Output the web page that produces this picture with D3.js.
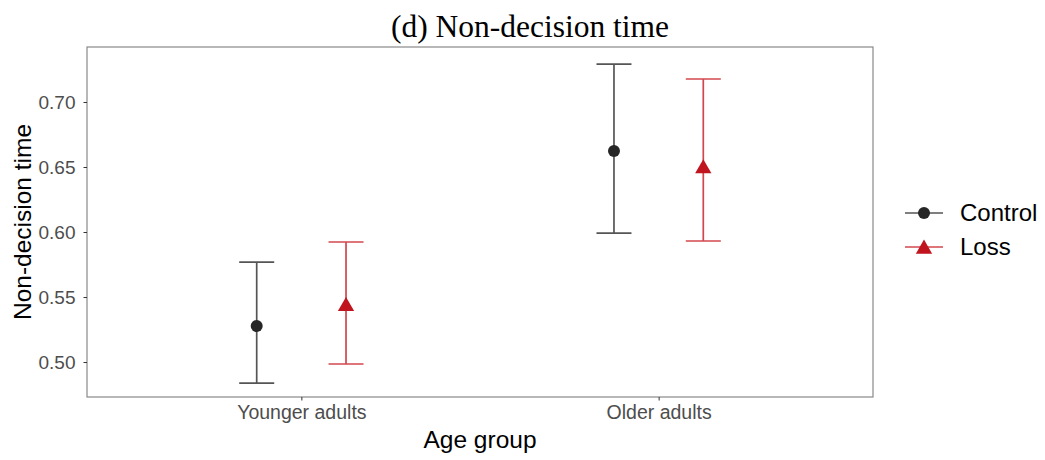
<!DOCTYPE html>
<html><head><meta charset="utf-8">
<script src="https://cdn.jsdelivr.net/npm/d3@7"></script>
<style>body{margin:0;background:#fff}</style>
</head><body>
<svg id="c" width="1045" height="460"></svg>
<script>
const groups = ["Younger adults", "Older adults"];
const conditions = ["Control", "Loss"];
const means = { "Control": [0.5277, 0.6623], "Loss": [0.5428, 0.6488] };
const lower = { "Control": [0.4838, 0.5992], "Loss": [0.4985, 0.5931] };
const upper = { "Control": [0.5769, 0.7292], "Loss": [0.5923, 0.7177] };
const yTicks = [0.50, 0.55, 0.60, 0.65, 0.70];
const colors = { "Control": "#262626", "Loss": "#c0141f" };
const barColors = { "Control": "#555555", "Loss": "#d2474f" };

const svg = d3.select("#c");
const L = 87, R = 873, T = 47, B = 397;
const y = d3.scaleLinear().domain([0.4731, 0.7423]).range([B, T]);
const x = d3.scaleLinear().domain([0.4, 2.6]).range([L, R]);
const dodge = d3.scaleBand().domain(conditions).range([-0.25, 0.25]).paddingInner(0);
const off = c => dodge(c) + dodge.bandwidth() / 2;
const sans = "Liberation Sans, Arial, sans-serif";

// title
svg.append("text").attr("x", 530).attr("y", 37).attr("text-anchor", "middle")
  .attr("font-family", "Liberation Serif, Times New Roman, serif").attr("font-size", 31.5)
  .attr("fill", "#000").text("(d) Non-decision time");

// panel
svg.append("rect").attr("x", L).attr("y", T).attr("width", R - L).attr("height", B - T)
  .attr("fill", "none").attr("stroke", "#7f7f7f").attr("stroke-width", 1.1);

// y axis
const ya = svg.append("g").attr("transform", `translate(${L},0)`)
  .call(d3.axisLeft(y).tickValues(yTicks).tickFormat(d3.format(".2f")).tickSize(3.5).tickPadding(8));
ya.select(".domain").remove();
ya.selectAll("line").attr("stroke", "#333");
ya.selectAll("text").attr("font-family", sans).attr("font-size", 19).attr("fill", "#4d4d4d");

// x axis
const xa = svg.append("g").attr("transform", `translate(0,${B})`)
  .call(d3.axisBottom(x).tickValues([1, 2]).tickFormat(d => groups[d - 1]).tickSize(3.5).tickPadding(5));
xa.select(".domain").remove();
xa.selectAll("line").attr("stroke", "#333");
xa.selectAll("text").attr("font-family", sans).attr("font-size", 19.5).attr("fill", "#4d4d4d");

// axis titles
svg.append("text").attr("x", 480).attr("y", 448).attr("text-anchor", "middle")
  .attr("font-family", sans).attr("font-size", 24.5).text("Age group");
svg.append("text").attr("transform", `translate(31,${(T + B) / 2}) rotate(-90)`).attr("text-anchor", "middle")
  .attr("font-family", sans).attr("font-size", 24.5).text("Non-decision time");

const capW = 17.5;
const tri = d3.symbol().type(d3.symbolTriangle).size(115);
conditions.forEach(c => {
  groups.forEach((g, i) => {
    const cx = x(i + 1 + off(c));
    const gg = svg.append("g");
    gg.append("line").attr("x1", cx).attr("x2", cx).attr("y1", y(lower[c][i])).attr("y2", y(upper[c][i]))
      .attr("stroke", barColors[c]).attr("stroke-width", 1.7);
    [lower[c][i], upper[c][i]].forEach(v => {
      gg.append("line").attr("x1", cx - capW).attr("x2", cx + capW).attr("y1", y(v)).attr("y2", y(v))
        .attr("stroke", barColors[c]).attr("stroke-width", 1.7);
    });
    if (c === "Control") {
      gg.append("circle").attr("cx", cx).attr("cy", y(means[c][i])).attr("r", 6).attr("fill", colors[c]);
    } else {
      gg.append("path").attr("d", tri).attr("transform", `translate(${cx},${y(means[c][i])})`).attr("fill", colors[c]);
    }
  });
});

// legend
const lg = svg.append("g");
conditions.forEach((c, k) => {
  const ly = 213 + k * 34;
  lg.append("line").attr("x1", 905).attr("x2", 943).attr("y1", ly).attr("y2", ly)
    .attr("stroke", barColors[c]).attr("stroke-width", 1.7);
  if (c === "Control") lg.append("circle").attr("cx", 924).attr("cy", ly).attr("r", 6).attr("fill", colors[c]);
  else lg.append("path").attr("d", tri).attr("transform", `translate(924,${ly + 2})`).attr("fill", colors[c]);
  lg.append("text").attr("x", 960).attr("y", ly + 8).attr("font-family", sans)
    .attr("font-size", 24).attr("fill", "#000").text(c);
});
</script>
</body></html>
